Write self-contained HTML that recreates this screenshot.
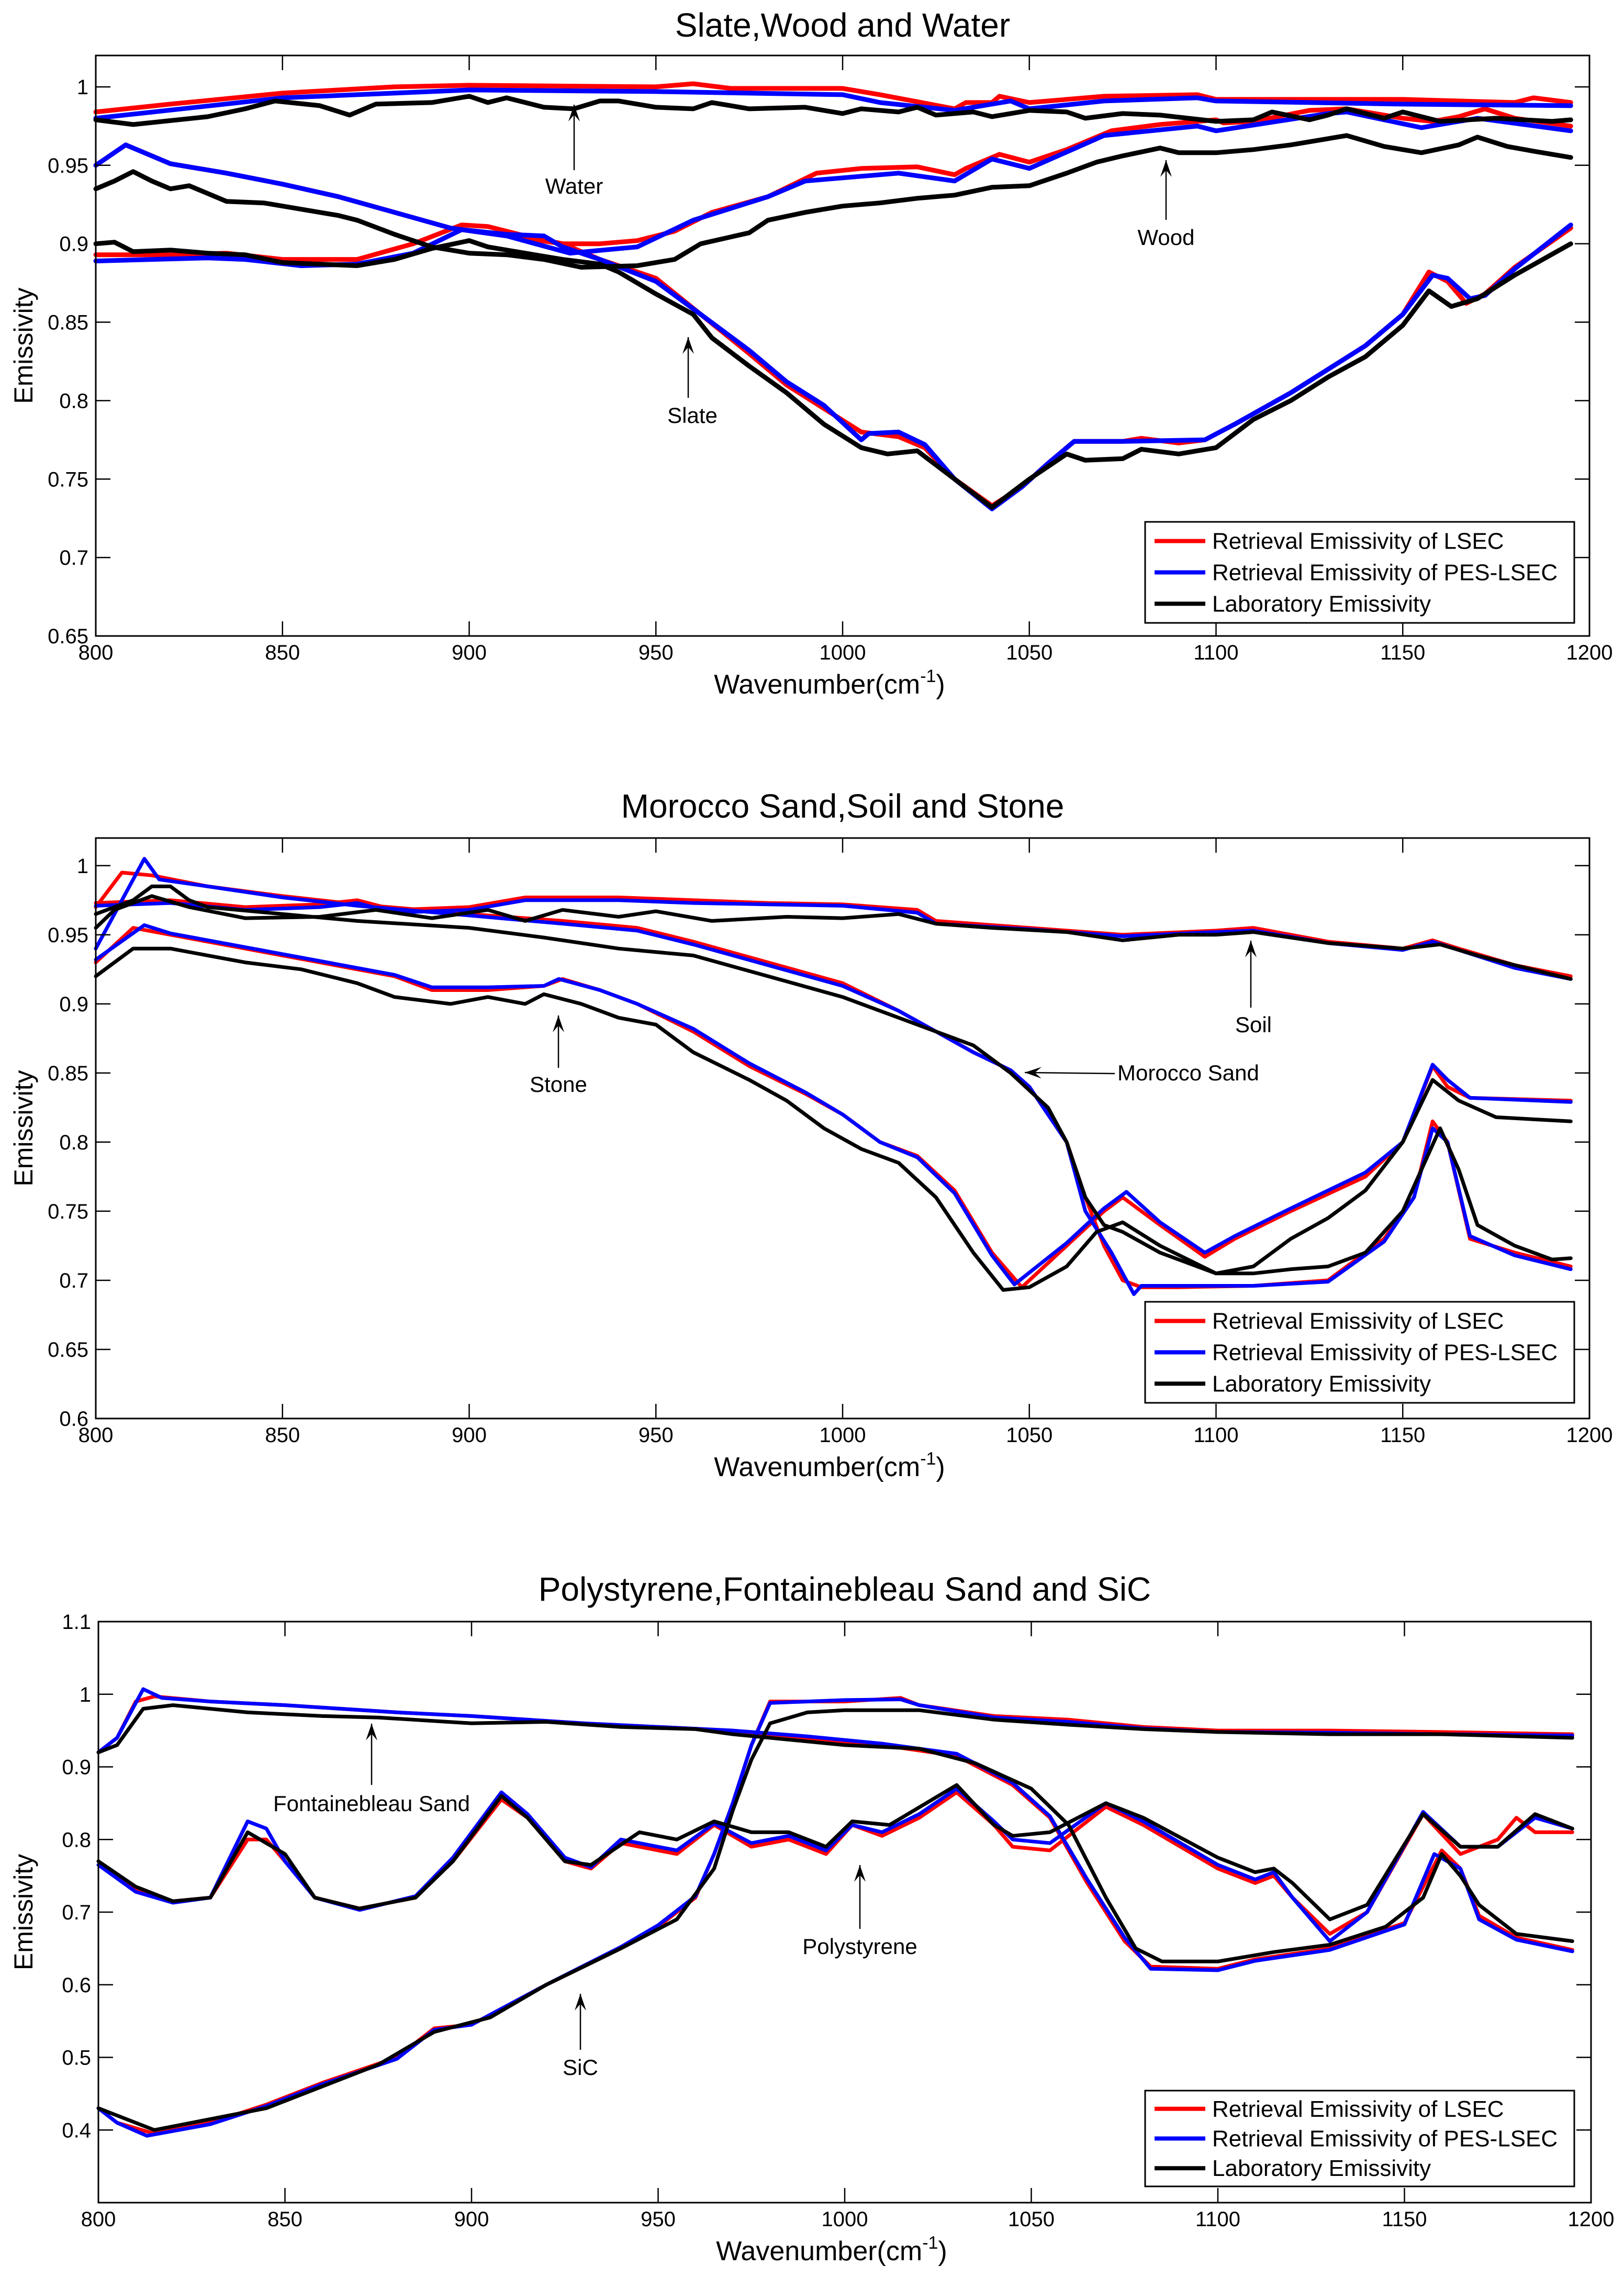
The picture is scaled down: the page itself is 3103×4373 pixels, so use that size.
<!DOCTYPE html>
<html><head><meta charset="utf-8">
<style>
html,body{margin:0;padding:0;background:#fff;}
svg{display:block;}
text{font-family:"Liberation Sans",Arial,sans-serif;fill:#000;}
</style></head>
<body>
<svg id="fig" width="3103" height="4373" viewBox="0 0 3103 4373" xmlns="http://www.w3.org/2000/svg">
<rect x="0" y="0" width="3103" height="4373" fill="#fff"/>
</svg>
<script>
// ---------- Panel 1: Slate, Wood and Water ----------
const p1WaterLsecX=[800,820,850,880,900,950,960,970,1000,1010,1030,1033,1040,1042,1050,1070,1095,1100,1150,1180,1185,1195];
const p1WaterLsecY=[0.984,0.989,0.996,1.0,1.001,1.0,1.002,0.999,0.999,0.995,0.986,0.99,0.99,0.994,0.99,0.994,0.995,0.992,0.992,0.99,0.993,0.99];
const p1WaterPesX=[800,850,900,950,1000,1010,1030,1045,1050,1070,1095,1100,1150,1195];
const p1WaterPesY=[0.98,0.993,0.998,0.997,0.995,0.99,0.985,0.991,0.986,0.991,0.993,0.991,0.989,0.988];
const p1WaterLabX=[800,810,830,840,848,860,868,875,890,900,905,910,920,928,935,940,950,960,965,975,990,1000,1005,1015,1020,1025,1035,1040,1050,1060,1065,1075,1085,1100,1110,1115,1125,1130,1135,1145,1150,1160,1175,1190,1195];
const p1WaterLabY=[0.979,0.976,0.981,0.986,0.991,0.988,0.982,0.989,0.99,0.994,0.99,0.993,0.987,0.986,0.991,0.991,0.987,0.986,0.99,0.986,0.987,0.983,0.986,0.984,0.987,0.982,0.984,0.981,0.985,0.984,0.98,0.983,0.982,0.978,0.979,0.984,0.979,0.982,0.986,0.98,0.984,0.978,0.98,0.978,0.979];
const p1WoodLsecX=[800,808,820,835,850,865,880,895,910,925,935,945,955,965,980,993,1005,1020,1030,1033,1042,1050,1060,1072,1085,1100,1102,1110,1125,1135,1150,1158,1165,1172,1180,1195];
const p1WoodLsecY=[0.95,0.963,0.951,0.945,0.938,0.93,0.92,0.91,0.905,0.9,0.9,0.902,0.908,0.92,0.93,0.945,0.948,0.949,0.944,0.948,0.957,0.952,0.96,0.972,0.976,0.979,0.977,0.978,0.985,0.986,0.98,0.978,0.981,0.986,0.98,0.975];
const p1WoodPesX=[800,808,820,835,850,865,880,895,910,927,945,960,980,990,1015,1030,1040,1050,1070,1095,1100,1130,1135,1155,1170,1195];
const p1WoodPesY=[0.95,0.963,0.951,0.945,0.938,0.93,0.92,0.91,0.905,0.894,0.898,0.915,0.93,0.94,0.945,0.94,0.954,0.948,0.969,0.975,0.972,0.983,0.984,0.974,0.98,0.972];
const p1WoodLabX=[800,805,810,815,820,825,835,845,855,865,870,880,890,900,910,920,930,945,955,962,975,980,990,1000,1010,1020,1030,1040,1050,1060,1068,1075,1085,1090,1100,1110,1120,1130,1135,1145,1155,1165,1170,1178,1185,1195];
const p1WoodLabY=[0.935,0.94,0.946,0.94,0.935,0.937,0.927,0.926,0.922,0.918,0.915,0.906,0.898,0.894,0.893,0.89,0.885,0.886,0.89,0.9,0.907,0.915,0.92,0.924,0.926,0.929,0.931,0.936,0.937,0.945,0.952,0.956,0.961,0.958,0.958,0.96,0.963,0.967,0.969,0.962,0.958,0.963,0.968,0.962,0.959,0.955];
const p1SlateLsecX=[800,820,835,850,870,885,898,905,915,925,935,950,962,975,985,995,1005,1015,1022,1030,1040,1048,1055,1062,1075,1080,1090,1097,1105,1120,1130,1140,1150,1157,1162,1167,1172,1180,1195];
const p1SlateLsecY=[0.893,0.893,0.894,0.89,0.89,0.9,0.912,0.911,0.905,0.9,0.89,0.878,0.855,0.83,0.81,0.795,0.78,0.777,0.77,0.75,0.733,0.745,0.76,0.774,0.774,0.776,0.773,0.775,0.785,0.805,0.82,0.835,0.855,0.882,0.876,0.862,0.868,0.885,0.91];
const p1SlatePesX=[800,830,840,855,870,885,898,910,920,925,935,950,962,975,985,995,1005,1007,1015,1022,1030,1040,1048,1055,1062,1075,1097,1105,1120,1130,1140,1150,1158,1162,1168,1172,1180,1195];
const p1SlatePesY=[0.889,0.891,0.89,0.886,0.887,0.894,0.909,0.906,0.905,0.898,0.89,0.876,0.855,0.832,0.812,0.797,0.775,0.779,0.78,0.772,0.75,0.731,0.745,0.76,0.774,0.774,0.775,0.785,0.805,0.82,0.835,0.855,0.88,0.878,0.865,0.867,0.884,0.912];
const p1SlateLabX=[800,805,810,820,830,840,850,860,870,880,890,900,905,915,925,935,940,950,960,965,975,985,995,1005,1012,1020,1030,1040,1050,1060,1065,1075,1080,1090,1100,1110,1120,1130,1140,1150,1157,1163,1170,1180,1195];
const p1SlateLabY=[0.9,0.901,0.895,0.896,0.894,0.893,0.888,0.887,0.886,0.89,0.897,0.902,0.898,0.894,0.89,0.887,0.882,0.868,0.855,0.84,0.822,0.805,0.785,0.77,0.766,0.768,0.75,0.732,0.75,0.766,0.762,0.763,0.769,0.766,0.77,0.788,0.8,0.815,0.828,0.848,0.87,0.86,0.865,0.88,0.9];
const p1YTicks=[0.65,0.7,0.75,0.8,0.85,0.9,0.95,1];
const p1YTickLabels=["0.65","0.7","0.75","0.8","0.85","0.9","0.95","1"];

// ---------- Panel 2: Morocco Sand, Soil and Stone ----------
const p2MoroLsecX=[800,807,815,830,850,870,900,925,945,960,980,1000,1015,1025,1035,1045,1050,1060,1065,1070,1075,1080,1090,1110,1130,1145,1153,1158,1162,1168,1180,1195];
const p2MoroLsecY=[0.97,0.995,0.993,0.985,0.978,0.972,0.965,0.96,0.955,0.945,0.93,0.915,0.895,0.88,0.865,0.852,0.84,0.8,0.76,0.725,0.7,0.695,0.695,0.696,0.7,0.73,0.76,0.815,0.8,0.73,0.72,0.71];
const p2MoroPesX=[800,813,817,830,850,870,900,925,945,960,980,1000,1015,1025,1035,1045,1050,1060,1065,1072,1078,1080,1090,1110,1130,1145,1153,1158,1162,1168,1180,1195];
const p2MoroPesY=[0.94,1.005,0.99,0.985,0.977,0.971,0.964,0.958,0.953,0.943,0.928,0.913,0.895,0.88,0.865,0.852,0.84,0.8,0.75,0.72,0.69,0.696,0.696,0.696,0.699,0.728,0.76,0.81,0.8,0.732,0.718,0.708];
const p2MoroLabX=[800,810,815,820,825,830,850,870,900,920,940,960,980,1000,1020,1035,1045,1055,1060,1065,1070,1075,1085,1100,1110,1120,1130,1140,1150,1155,1160,1165,1170,1180,1190,1195];
const p2MoroLabY=[0.965,0.975,0.985,0.985,0.975,0.97,0.965,0.96,0.955,0.948,0.94,0.935,0.92,0.905,0.885,0.87,0.85,0.825,0.8,0.76,0.74,0.735,0.72,0.705,0.705,0.708,0.71,0.72,0.75,0.78,0.81,0.78,0.74,0.725,0.715,0.716];
const p2SoilLsecX=[800,820,840,860,870,880,900,915,940,960,980,1000,1020,1025,1050,1075,1100,1110,1130,1150,1158,1165,1180,1195];
const p2SoilLsecY=[0.973,0.975,0.97,0.972,0.975,0.968,0.97,0.977,0.977,0.975,0.973,0.972,0.968,0.96,0.955,0.95,0.953,0.955,0.945,0.94,0.946,0.94,0.928,0.92];
const p2SoilPesX=[800,820,840,860,870,880,900,915,940,960,980,1000,1020,1025,1050,1075,1100,1110,1130,1150,1158,1165,1180,1195];
const p2SoilPesY=[0.971,0.973,0.968,0.97,0.973,0.966,0.968,0.975,0.975,0.973,0.972,0.971,0.966,0.958,0.954,0.949,0.952,0.953,0.944,0.939,0.945,0.939,0.926,0.918];
const p2SoilLabX=[800,805,815,825,840,860,875,890,905,915,925,940,950,965,985,1000,1015,1025,1040,1060,1075,1090,1100,1110,1130,1150,1160,1170,1180,1195];
const p2SoilLabY=[0.955,0.968,0.978,0.97,0.962,0.963,0.968,0.962,0.968,0.96,0.968,0.963,0.967,0.96,0.963,0.962,0.965,0.958,0.955,0.952,0.946,0.95,0.95,0.952,0.944,0.94,0.943,0.935,0.928,0.918];
const p2StoneLsecX=[800,810,820,840,860,880,890,905,920,925,935,945,960,975,990,1000,1010,1020,1030,1040,1048,1060,1070,1075,1085,1097,1105,1120,1140,1150,1158,1162,1168,1195];
const p2StoneLsecY=[0.93,0.955,0.95,0.94,0.93,0.92,0.91,0.91,0.913,0.918,0.91,0.9,0.88,0.855,0.835,0.82,0.8,0.79,0.765,0.72,0.695,0.725,0.75,0.76,0.74,0.717,0.73,0.75,0.775,0.8,0.855,0.84,0.832,0.83];
const p2StonePesX=[800,813,820,840,860,880,890,905,920,924,935,945,960,975,990,1000,1010,1020,1030,1040,1046,1060,1070,1076,1085,1097,1105,1120,1140,1150,1158,1162,1168,1195];
const p2StonePesY=[0.932,0.957,0.951,0.941,0.931,0.921,0.912,0.912,0.913,0.918,0.91,0.9,0.882,0.857,0.836,0.82,0.8,0.789,0.763,0.718,0.697,0.727,0.752,0.764,0.742,0.72,0.732,0.752,0.778,0.8,0.856,0.845,0.832,0.829];
const p2StoneLabX=[800,810,820,830,840,855,870,880,895,905,915,920,930,940,950,960,975,985,995,1005,1015,1025,1035,1043,1050,1060,1068,1075,1085,1100,1110,1120,1130,1140,1150,1158,1165,1175,1195];
const p2StoneLabY=[0.92,0.94,0.94,0.935,0.93,0.925,0.915,0.905,0.9,0.905,0.9,0.907,0.9,0.89,0.885,0.865,0.845,0.83,0.81,0.795,0.785,0.76,0.72,0.693,0.695,0.71,0.735,0.742,0.725,0.705,0.71,0.73,0.745,0.765,0.8,0.845,0.83,0.818,0.815];
const p2YTicks=[0.6,0.65,0.7,0.75,0.8,0.85,0.9,0.95,1];
const p2YTickLabels=["0.6","0.65","0.7","0.75","0.8","0.85","0.9","0.95","1"];

// ---------- Panel 3: Polystyrene, Fontainebleau Sand and SiC ----------
const p3FontLsecX=[800,805,810,815,830,850,880,900,930,950,970,990,1010,1030,1045,1055,1065,1075,1082,1100,1110,1130,1150,1160,1165,1170,1180,1195];
const p3FontLsecY=[0.92,0.94,0.99,0.997,0.99,0.985,0.975,0.97,0.96,0.955,0.95,0.94,0.93,0.915,0.875,0.83,0.74,0.66,0.625,0.622,0.635,0.65,0.685,0.785,0.76,0.695,0.665,0.648];
const p3FontPesX=[800,805,812,817,830,850,880,900,930,950,970,990,1010,1030,1045,1055,1065,1075,1082,1100,1110,1130,1150,1158,1165,1170,1180,1195];
const p3FontPesY=[0.92,0.94,1.007,0.995,0.99,0.985,0.975,0.97,0.96,0.955,0.95,0.942,0.932,0.918,0.878,0.832,0.745,0.665,0.622,0.62,0.633,0.648,0.683,0.78,0.76,0.69,0.662,0.646];
const p3FontLabX=[800,805,812,820,830,840,860,875,900,920,940,960,970,980,1000,1020,1035,1050,1060,1070,1078,1085,1100,1115,1130,1145,1155,1160,1165,1170,1180,1195];
const p3FontLabY=[0.92,0.93,0.98,0.985,0.98,0.975,0.97,0.968,0.96,0.962,0.955,0.952,0.945,0.94,0.93,0.925,0.905,0.87,0.82,0.72,0.65,0.632,0.632,0.645,0.655,0.68,0.72,0.78,0.75,0.71,0.67,0.66];
const p3SicLsecX=[800,805,815,830,845,860,880,890,900,920,940,950,960,965,970,975,980,990,1000,1015,1020,1040,1060,1080,1100,1130,1160,1195];
const p3SicLsecY=[0.43,0.41,0.395,0.41,0.435,0.465,0.5,0.54,0.545,0.6,0.65,0.68,0.72,0.78,0.85,0.93,0.99,0.99,0.99,0.995,0.985,0.97,0.965,0.955,0.95,0.95,0.948,0.945];
const p3SicPesX=[800,805,813,830,845,860,880,890,900,920,940,950,960,965,970,975,980,990,1000,1015,1020,1040,1060,1080,1100,1130,1160,1195];
const p3SicPesY=[0.43,0.41,0.392,0.408,0.433,0.463,0.498,0.538,0.545,0.6,0.652,0.682,0.722,0.78,0.85,0.93,0.988,0.99,0.992,0.993,0.985,0.968,0.962,0.953,0.948,0.947,0.945,0.943];
const p3SicLabX=[800,815,830,845,860,875,890,905,920,940,955,965,970,975,980,990,1000,1020,1040,1060,1080,1100,1130,1160,1195];
const p3SicLabY=[0.43,0.4,0.415,0.43,0.46,0.49,0.535,0.555,0.6,0.65,0.69,0.76,0.84,0.91,0.96,0.975,0.978,0.978,0.965,0.958,0.952,0.948,0.945,0.945,0.94];
const p3PolyLsecX=[800,810,820,830,840,845,850,858,870,885,895,908,915,925,932,940,955,965,975,985,995,1002,1010,1020,1030,1040,1045,1055,1070,1080,1100,1110,1115,1120,1130,1140,1155,1165,1175,1180,1185,1195];
const p3PolyLsecY=[0.77,0.73,0.715,0.72,0.8,0.8,0.77,0.72,0.705,0.72,0.77,0.855,0.83,0.77,0.76,0.795,0.78,0.82,0.79,0.8,0.78,0.82,0.805,0.83,0.865,0.82,0.79,0.785,0.845,0.82,0.76,0.74,0.75,0.72,0.67,0.7,0.835,0.78,0.8,0.83,0.81,0.81];
const p3PolyPesX=[800,810,820,830,840,845,850,858,870,885,895,908,915,925,932,940,955,965,975,985,995,1002,1010,1020,1030,1040,1045,1055,1070,1080,1100,1110,1115,1120,1130,1140,1155,1165,1175,1180,1185,1195];
const p3PolyPesY=[0.765,0.728,0.713,0.72,0.825,0.815,0.77,0.72,0.703,0.722,0.775,0.865,0.835,0.775,0.762,0.8,0.785,0.822,0.795,0.805,0.785,0.82,0.81,0.835,0.87,0.825,0.8,0.795,0.85,0.825,0.765,0.745,0.755,0.72,0.66,0.7,0.838,0.79,0.79,0.81,0.83,0.815];
const p3PolyLabX=[800,810,820,830,840,850,858,870,885,895,908,915,925,932,945,955,965,975,985,995,1002,1012,1030,1040,1045,1055,1070,1080,1100,1110,1115,1120,1130,1140,1155,1165,1175,1185,1195];
const p3PolyLabY=[0.77,0.735,0.715,0.72,0.81,0.78,0.72,0.705,0.72,0.77,0.86,0.83,0.77,0.765,0.81,0.8,0.825,0.81,0.81,0.79,0.825,0.82,0.875,0.82,0.805,0.81,0.85,0.83,0.775,0.755,0.76,0.74,0.69,0.71,0.835,0.79,0.79,0.835,0.815];
const p3YTicks=[0.4,0.5,0.6,0.7,0.8,0.9,1,1.1];
const p3YTickLabels=["0.4","0.5","0.6","0.7","0.8","0.9","1","1.1"];

const xTicks=[800,850,900,950,1000,1050,1100,1150,1200];
const xTickLabels=["800","850","900","950","1000","1050","1100","1150","1200"];
const legendLabels=["Retrieval Emissivity of LSEC","Retrieval Emissivity of PES-LSEC","Laboratory Emissivity"];

const NS="http://www.w3.org/2000/svg";
const svg=document.getElementById('fig');
function mk(tag,attrs,parent){const e=document.createElementNS(NS,tag);for(const k in attrs)e.setAttribute(k,attrs[k]);(parent||svg).appendChild(e);return e;}
function txt(s,attrs,parent){const e=mk('text',attrs,parent);e.textContent=s;return e;}

function panel(cfg){
  const g=mk('g',{});
  
  
  const L=cfg.left,R=cfg.right,T=cfg.top,B=cfg.bottom;
  const sx=v=>L+(v-800)/400*(R-L);
  const sy=v=>B-(v-cfg.ymin)/(cfg.ymax-cfg.ymin)*(B-T);
  const t=txt(cfg.title,{x:(L+R)/2,y:cfg.titleY,'font-size':64,'text-anchor':'middle'},g);
  
  
  cfg.series.forEach(s=>{
    let d='';
    s.x.forEach((xv,i)=>{d+=(i?'L':'M')+sx(xv).toFixed(1)+','+sy(s.y[i]).toFixed(1);});
    const p=mk('path',{d:d,fill:'none',stroke:s.color,'stroke-width':cfg.lw,'stroke-linejoin':'round','stroke-linecap':'round'},g);
    
    
  });
  const fr=mk('rect',{x:L,y:T,width:R-L,height:B-T,fill:'none',stroke:'#000','stroke-width':3},g);
  
  
  const tl=28;
  xTicks.forEach((v,i)=>{
    const x=sx(v);
    mk('line',{x1:x,y1:B,x2:x,y2:B-tl,stroke:'#000','stroke-width':2.5},g);
    mk('line',{x1:x,y1:T,x2:x,y2:T+tl,stroke:'#000','stroke-width':2.5},g);
    const lb=txt(xTickLabels[i],{x:x,y:B+45,'font-size':40,'text-anchor':'middle'},g);
    
    
  });
  cfg.yticks.forEach((v,i)=>{
    const y=sy(v);
    mk('line',{x1:L,y1:y,x2:L+tl,y2:y,stroke:'#000','stroke-width':2.5},g);
    mk('line',{x1:R,y1:y,x2:R-tl,y2:y,stroke:'#000','stroke-width':2.5},g);
    const lb=txt(cfg.ylabels[i],{x:L-14,y:y+14,'font-size':40,'text-anchor':'end'},g);
    
    
  });
  const xl=txt('Wavenumber(cm',{x:(L+R)/2-25,y:cfg.xlabelY,'font-size':52,'text-anchor':'middle'},g);
  
  
  const sup=mk('tspan',{dy:-22,'font-size':34},xl);sup.textContent='-1';
  const cl=mk('tspan',{dy:22},xl);cl.textContent=')';
  const yc=(T+B)/2;
  const yl=txt('Emissivity',{x:0,y:0,'font-size':50,'text-anchor':'middle',transform:'translate(62,'+yc+') rotate(-90)'},g);
  
  
  const lg=mk('g',{},g);
  
  
  const lx=cfg.leg[0],ly=cfg.leg[1],lw=820,lh=cfg.leg[2];
  mk('rect',{x:lx,y:ly,width:lw,height:lh,fill:'#fff',stroke:'#000','stroke-width':3},lg);
  const cols=['#ff0000','#0000ff','#000000'];
  legendLabels.forEach((s,i)=>{
    const yy=ly+lh*(0.19+i*0.31);
    const ln=mk('line',{x1:lx+18,y1:yy,x2:lx+115,y2:yy,stroke:cols[i],'stroke-width':8},lg);
    
    
    const lt=txt(s,{x:lx+128,y:yy+15,'font-size':44},lg);
    
    
  });
  cfg.ann.forEach(a=>{
    const ag=mk('g',{},g);
    
    
    txt(a.t,{x:a.tx,y:a.ty,'font-size':42,'text-anchor':a.anchor||'middle'},ag);
    mk('line',{x1:a.x1,y1:a.y1,x2:a.x2,y2:a.y2,stroke:'#000','stroke-width':2.5},ag);
    const ang=Math.atan2(a.y2-a.y1,a.x2-a.x1);
    const hl=32,hw=11;
    const bx=a.x2-hl*Math.cos(ang),by=a.y2-hl*Math.sin(ang);
    const px=-Math.sin(ang),py=Math.cos(ang);
    mk('path',{d:`M${a.x2},${a.y2}L${bx+hw*px},${by+hw*py}L${a.x2-hl*0.6*Math.cos(ang)},${a.y2-hl*0.6*Math.sin(ang)}L${bx-hw*px},${by-hw*py}Z`,fill:'#000'},ag);
  });
}
const RED='#ff0000',BLUE='#0000ff',BLK='#000000';
panel({name:'panel-slate-wood-water',title:'Slate,Wood and Water',titleY:70,left:183,right:3037,top:106,bottom:1215,ymin:0.65,ymax:1.02,lw:9,
  yticks:p1YTicks,ylabels:p1YTickLabels,xlabelY:1325,leg:[2188,997,193],
  series:[
    {name:'water-lsec-line',x:p1WaterLsecX,y:p1WaterLsecY,color:RED},
    {name:'wood-lsec-line',x:p1WoodLsecX,y:p1WoodLsecY,color:RED},
    {name:'slate-lsec-line',x:p1SlateLsecX,y:p1SlateLsecY,color:RED},
    {name:'water-pes-line',x:p1WaterPesX,y:p1WaterPesY,color:BLUE},
    {name:'wood-pes-line',x:p1WoodPesX,y:p1WoodPesY,color:BLUE},
    {name:'slate-pes-line',x:p1SlatePesX,y:p1SlatePesY,color:BLUE},
    {name:'water-lab-line',x:p1WaterLabX,y:p1WaterLabY,color:BLK},
    {name:'wood-lab-line',x:p1WoodLabX,y:p1WoodLabY,color:BLK},
    {name:'slate-lab-line',x:p1SlateLabX,y:p1SlateLabY,color:BLK}],
  ann:[{t:'Water',tx:1097,ty:370,x1:1097,y1:325,x2:1097,y2:200},
       {t:'Wood',tx:2228,ty:468,x1:2228,y1:420,x2:2228,y2:306},
       {t:'Slate',tx:1323,ty:808,x1:1315,y1:760,x2:1315,y2:644}]});
panel({name:'panel-morocco-soil-stone',title:'Morocco Sand,Soil and Stone',titleY:1562,left:183,right:3037,top:1601,bottom:2710,ymin:0.6,ymax:1.02,lw:7,
  yticks:p2YTicks,ylabels:p2YTickLabels,xlabelY:2820,leg:[2188,2487,193],
  series:[
    {name:'morocco-lsec-line',x:p2MoroLsecX,y:p2MoroLsecY,color:RED},
    {name:'soil-lsec-line',x:p2SoilLsecX,y:p2SoilLsecY,color:RED},
    {name:'stone-lsec-line',x:p2StoneLsecX,y:p2StoneLsecY,color:RED},
    {name:'morocco-pes-line',x:p2MoroPesX,y:p2MoroPesY,color:BLUE},
    {name:'soil-pes-line',x:p2SoilPesX,y:p2SoilPesY,color:BLUE},
    {name:'stone-pes-line',x:p2StonePesX,y:p2StonePesY,color:BLUE},
    {name:'morocco-lab-line',x:p2MoroLabX,y:p2MoroLabY,color:BLK},
    {name:'soil-lab-line',x:p2SoilLabX,y:p2SoilLabY,color:BLK},
    {name:'stone-lab-line',x:p2StoneLabX,y:p2StoneLabY,color:BLK}],
  ann:[{t:'Soil',tx:2395,ty:1972,x1:2390,y1:1925,x2:2390,y2:1797},
       {t:'Stone',tx:1067,ty:2086,x1:1067,y1:2040,x2:1067,y2:1940},
       {t:'Morocco Sand',tx:2135,ty:2064,anchor:'start',x1:2130,y1:2051,x2:1958,y2:2049}]});
panel({name:'panel-polystyrene-fontainebleau-sic',title:'Polystyrene,Fontainebleau Sand and SiC',titleY:3058,left:188,right:3040,top:3098,bottom:4208,ymin:0.3,ymax:1.1,lw:7,
  yticks:p3YTicks,ylabels:p3YTickLabels,xlabelY:4318,leg:[2188,3994,183],
  series:[
    {name:'fontainebleau-lsec-line',x:p3FontLsecX,y:p3FontLsecY,color:RED},
    {name:'sic-lsec-line',x:p3SicLsecX,y:p3SicLsecY,color:RED},
    {name:'polystyrene-lsec-line',x:p3PolyLsecX,y:p3PolyLsecY,color:RED},
    {name:'fontainebleau-pes-line',x:p3FontPesX,y:p3FontPesY,color:BLUE},
    {name:'sic-pes-line',x:p3SicPesX,y:p3SicPesY,color:BLUE},
    {name:'polystyrene-pes-line',x:p3PolyPesX,y:p3PolyPesY,color:BLUE},
    {name:'fontainebleau-lab-line',x:p3FontLabX,y:p3FontLabY,color:BLK},
    {name:'sic-lab-line',x:p3SicLabX,y:p3SicLabY,color:BLK},
    {name:'polystyrene-lab-line',x:p3PolyLabX,y:p3PolyLabY,color:BLK}],
  ann:[{t:'Fontainebleau Sand',tx:710,ty:3460,x1:710,y1:3410,x2:710,y2:3293},
       {t:'Polystyrene',tx:1643,ty:3733,x1:1643,y1:3685,x2:1643,y2:3563},
       {t:'SiC',tx:1109,ty:3964,x1:1109,y1:3916,x2:1109,y2:3809}]});
</script>
</body></html>
